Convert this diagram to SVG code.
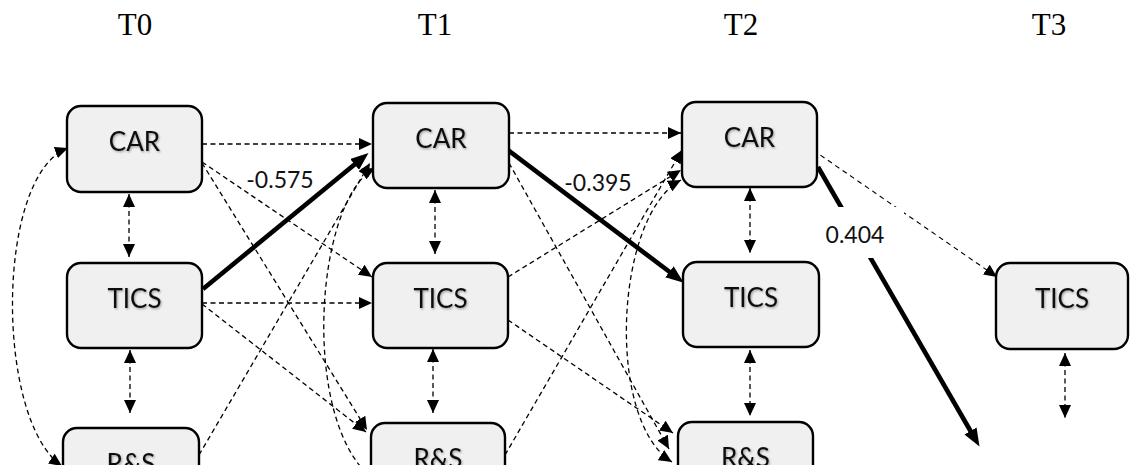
<svg xmlns="http://www.w3.org/2000/svg" width="1130" height="465" viewBox="0 0 1130 465">
<defs>
<style>
.box{fill:#f0f0f0;stroke:#000;stroke-width:2.4}
.nt{font-family:Lato,"Open Sans",sans-serif;font-size:26px;fill:#111;text-anchor:middle;filter:url(#sh)}
.hd{font-family:"Liberation Serif","Times New Roman",serif;font-size:31px;fill:#000;text-anchor:middle}
.lb{font-family:Lato,"Open Sans",sans-serif;font-size:23px;fill:#111;text-anchor:middle}
.d{fill:none;stroke:#000;stroke-width:1.3;stroke-dasharray:5 3.5}
.dt{fill:none;stroke:#000;stroke-width:1.1;stroke-dasharray:5 4}
.th{fill:none;stroke:#000;stroke-width:4.6}
.a{marker-end:url(#ah)}
.aa{marker-start:url(#ah);marker-end:url(#ah)}
.ab{marker-end:url(#ahb)}
</style>
<marker id="ah" viewBox="0 0 13 12" refX="13" refY="6" markerWidth="13" markerHeight="12" orient="auto-start-reverse" markerUnits="userSpaceOnUse"><path d="M0,0 L13,6 L0,12 z" fill="#000"/></marker>
<marker id="ahb" viewBox="0 0 18 14" refX="7" refY="7" markerWidth="18" markerHeight="14" orient="auto" markerUnits="userSpaceOnUse"><path d="M0,0 L18,7 L0,14 z" fill="#000"/></marker>
<filter id="sh" x="-10%" y="-20%" width="130%" height="150%"><feDropShadow dx="1" dy="1.2" stdDeviation="0.8" flood-color="#000" flood-opacity="0.35"/></filter>
</defs>
<rect width="1130" height="465" fill="#fff"/>
<g id="headers">
<text class="hd" x="135" y="35">T0</text>
<text class="hd" x="435" y="35">T1</text>
<text class="hd" x="741" y="35">T2</text>
<text class="hd" x="1049" y="35">T3</text>
</g>
<g id="connectors">
<path class="d aa" d="M129 194 L129 257"/>
<path class="d aa" d="M130 350 L130 413"/>
<path class="d aa" d="M68 148 C -5 175, -5 420, 62 466"/>
<path class="d a" d="M202 144 L372 144"/>
<path class="d a" d="M202 162 L372 277"/>
<path class="d a" d="M202 163 L367 430"/>
<path class="d a" d="M202 303 L372 303"/>
<path class="d a" d="M202 304 L366 432"/>
<path class="d a" d="M199 455 L370 163"/>
<path class="th ab" d="M203 289 L360 160"/>
<path class="d aa" d="M435 190 L435 254"/>
<path class="d aa" d="M433 349 L433 413"/>
<path class="d aa" d="M375 168 C 315 200, 300 420, 372 478"/>
<path class="d a" d="M509 133 L681 133"/>
<path class="d a" d="M509 163 L669 449"/>
<path class="d a" d="M508 277 L681 170"/>
<path class="d a" d="M508 320 L673 433"/>
<path class="d a" d="M505 455 L682 150"/>
<path class="th ab" d="M508 150 L675 276"/>
<path class="d aa" d="M750 188 L750 253"/>
<path class="d aa" d="M750 350 L750 416"/>
<path class="d aa" d="M681 180 C 615 215, 605 420, 672 462"/>
<path class="dt a" d="M813 150 L997 277"/>
<path class="th ab" d="M818 167 L974 437"/>
<path class="d aa" d="M1065 353 L1065 418"/>
</g>
<g id="labels">
<text class="lb" x="280" y="188">-0.575</text>
<text class="lb" x="598" y="191">-0.395</text>
<rect x="812" y="207" width="92" height="51" fill="#fff"/>
<text class="lb" x="855" y="243">0.404</text>
</g>
<g id="node-car0"><rect class="box" x="67" y="106" width="135" height="86" rx="14"/><text class="nt" x="134.5" y="151">CAR</text></g>
<g id="node-tics0"><rect class="box" x="67" y="263" width="135" height="85" rx="14"/><text class="nt" x="134.5" y="308">TICS</text></g>
<g id="node-rs0"><rect class="box" x="63" y="428" width="136" height="85" rx="14"/><text class="nt" x="131" y="473">R&amp;S</text></g>
<g id="node-car1"><rect class="box" x="373" y="103" width="136" height="85" rx="14"/><text class="nt" x="441" y="148">CAR</text></g>
<g id="node-tics1"><rect class="box" x="373" y="263" width="135" height="85" rx="14"/><text class="nt" x="440.5" y="308">TICS</text></g>
<g id="node-rs1"><rect class="box" x="371" y="423" width="134" height="85" rx="14"/><text class="nt" x="438" y="468">R&amp;S</text></g>
<g id="node-car2"><rect class="box" x="682" y="102" width="135" height="85" rx="14"/><text class="nt" x="749.5" y="147">CAR</text></g>
<g id="node-tics2"><rect class="box" x="683" y="262" width="136" height="85" rx="14"/><text class="nt" x="751" y="307">TICS</text></g>
<g id="node-rs2"><rect class="box" x="678" y="422" width="135" height="85" rx="14"/><text class="nt" x="745.5" y="467">R&amp;S</text></g>
<g id="node-tics3"><rect class="box" x="996" y="263" width="132" height="86" rx="14"/><text class="nt" x="1062" y="308">TICS</text></g>
</svg>
